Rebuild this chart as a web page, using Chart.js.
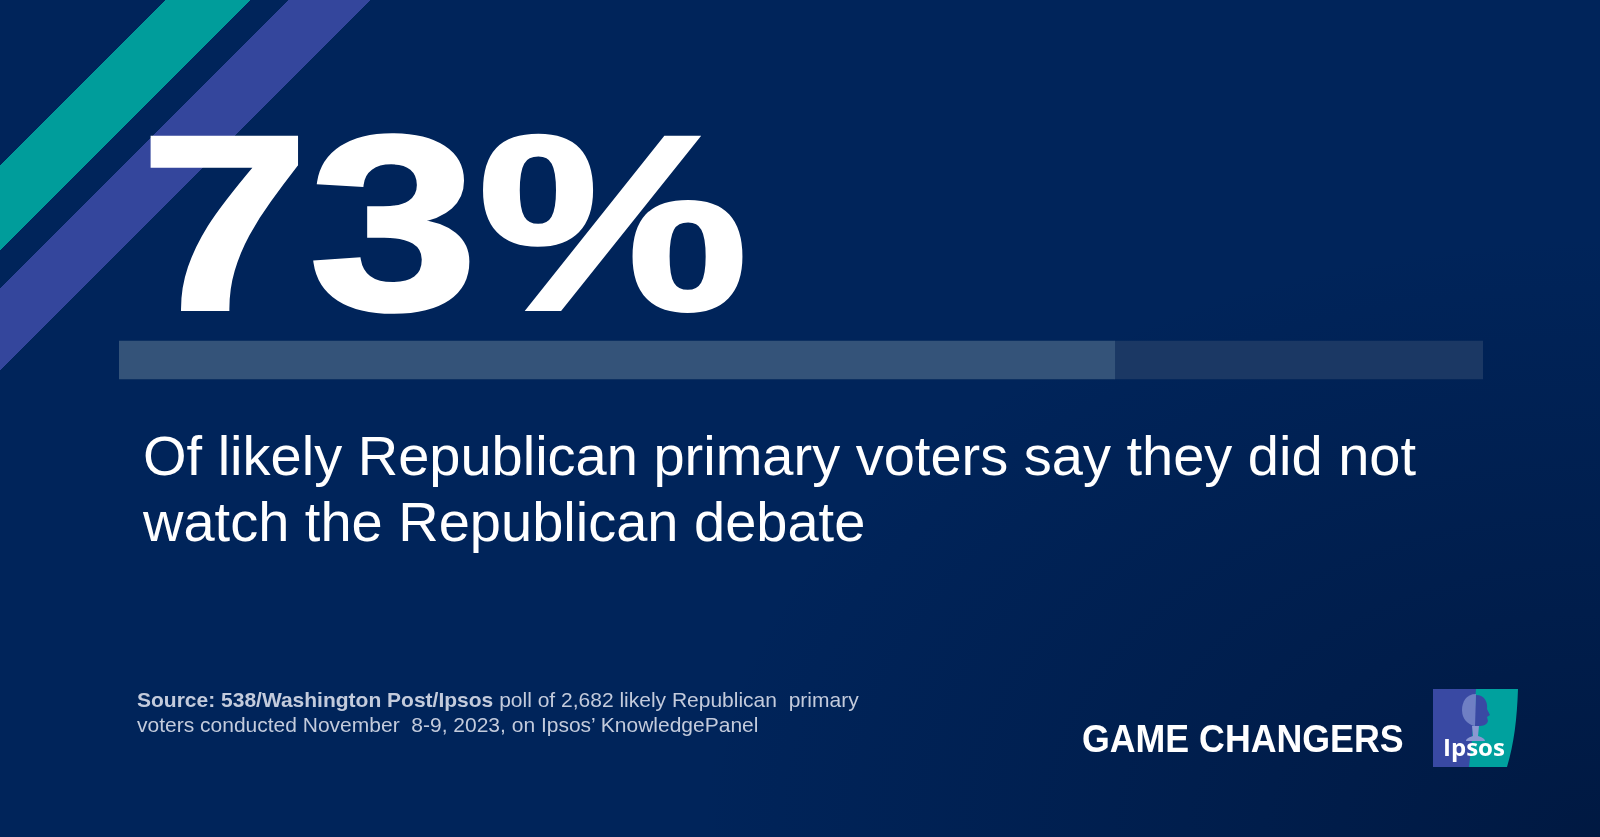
<!DOCTYPE html>
<html lang="en">
<head>
    <meta charset="UTF-8">
    <title>Game Changers - 73%</title>
    <script src="https://cdn.jsdelivr.net/npm/chart.js"></script>
    <style>
    html, body {
        margin: 0;
        padding: 0;
    }
    body {
        width: 1600px;
        height: 837px;
        overflow: hidden;
        position: relative;
        font-family: "Liberation Sans", Arial, sans-serif;
        background:
            radial-gradient(ellipse 900px 600px at 100% 100%, rgba(0, 22, 60, 0.8) 0%, rgba(0, 22, 60, 0) 100%),
            #00245a;
    }
    /* diagonal stripes, top-left corner */
    .stripes {
        position: absolute;
        left: 0;
        top: 0;
        width: 1600px;
        height: 837px;
        background: linear-gradient(135deg,
            transparent 0px, transparent 117px,
            #009d9b 117px, #009d9b 177px,
            transparent 177px, transparent 204px,
            #34469c 204px, #34469c 262px,
            transparent 262px);
    }
    .chart-box {
        position: absolute;
        left: 0;
        top: 0;
        width: 1600px;
        height: 837px;
    }
    .big-number {
        position: absolute;
        left: 140px;
        top: 99px;
        font-size: 249px;
        line-height: 1;
        font-weight: bold;
        color: #fff;
        -webkit-text-stroke: 4px #fff;
        transform: scaleX(1.22);
        transform-origin: left top;
        white-space: nowrap;
    }
    .subtitle {
        position: absolute;
        left: 143px;
        top: 423px;
        font-size: 56px;
        line-height: 66px;
        color: #fff;
        white-space: nowrap;
    }
    .source {
        position: absolute;
        left: 137px;
        top: 687px;
        font-size: 21px;
        line-height: 25px;
        color: #c3cbdc;
        white-space: nowrap;
    }
    .brand {
        position: absolute;
        left: 1082px;
        top: 720px;
        font-size: 38px;
        line-height: 1;
        font-weight: bold;
        color: #fff;
        transform: scaleX(0.94);
        transform-origin: left top;
        white-space: nowrap;
    }
    .logo {
        position: absolute;
        left: 1433px;
        top: 689px;
    }
    </style>
</head>
<body>

    <div class="stripes"></div>

    <div class="chart-box">
        <canvas id="barChart"></canvas>
    </div>

    <div class="big-number" id="bigNumber"></div>

    <div class="subtitle">Of likely Republican primary voters say they did not<br>watch the Republican debate</div>

    <div class="source"><b>Source: 538/Washington Post/Ipsos</b> poll of 2,682 likely Republican&nbsp; primary<br>voters conducted November&nbsp; 8-9, 2023, on Ipsos’ KnowledgePanel</div>

    <div class="brand">GAME CHANGERS</div>

    <!-- Ipsos logo -->
    <svg class="logo" width="86" height="79" viewBox="0 0 86 79">
        <path d="M0,0 L46,0 L40,78 L0,78 Z" fill="#3949a3"/>
        <path d="M43,0 L85,0 C84,30 81,55 74,78 L36,78 L39,50 Z" fill="#00a19e"/>
        <path d="M43,6 C52,6 55,14 54,20 L57,26 L54,28 L55,32 C54,36 50,37 46,37 L44,43 L40,43 Z" fill="#3949a3"/>
        <path d="M43,5 C33,5 29,13 29,21 C29,30 35,36 42,37 Z" fill="#6f7fc4"/>
        <path d="M39,37 L46,37 L45,47 C49,48 52,50 52,52 L33,52 C33,50 36,48 40,47 Z" fill="#8b98d2"/>
        <text x="10" y="67" font-family="Open Sans, sans-serif" font-weight="bold" font-size="24" fill="#fff">Ipsos</text>
    </svg>

    <script>
// share of likely Republican primary voters
const categories = ['Did not watch the debate'];
const didNotWatch = [73];
const remainder = [27];

document.getElementById('bigNumber').textContent = didNotWatch[0] + '%';

const barCtx = document.getElementById('barChart').getContext('2d');
const barChart = new Chart(barCtx, {
    type: 'bar',
    data: {
        labels: categories,
        datasets: [{
            label: 'Did not watch',
            data: didNotWatch,
            backgroundColor: '#345379',
            borderWidth: 0,
            barThickness: 38
        }, {
            label: 'Rest',
            data: remainder,
            backgroundColor: '#1b3864',
            borderWidth: 0,
            barThickness: 38
        }]
    },
    options: {
        indexAxis: 'y',
        responsive: true,
        maintainAspectRatio: false,
        animation: false,
        layout: {
            padding: { left: 119, right: 117, top: 0, bottom: 117 }
        },
        plugins: {
            legend: { display: false },
            tooltip: { enabled: false }
        },
        scales: {
            x: { stacked: true, min: 0, max: 100, display: false },
            y: { stacked: true, display: false }
        }
    }
});
    </script>
</body>
</html>
